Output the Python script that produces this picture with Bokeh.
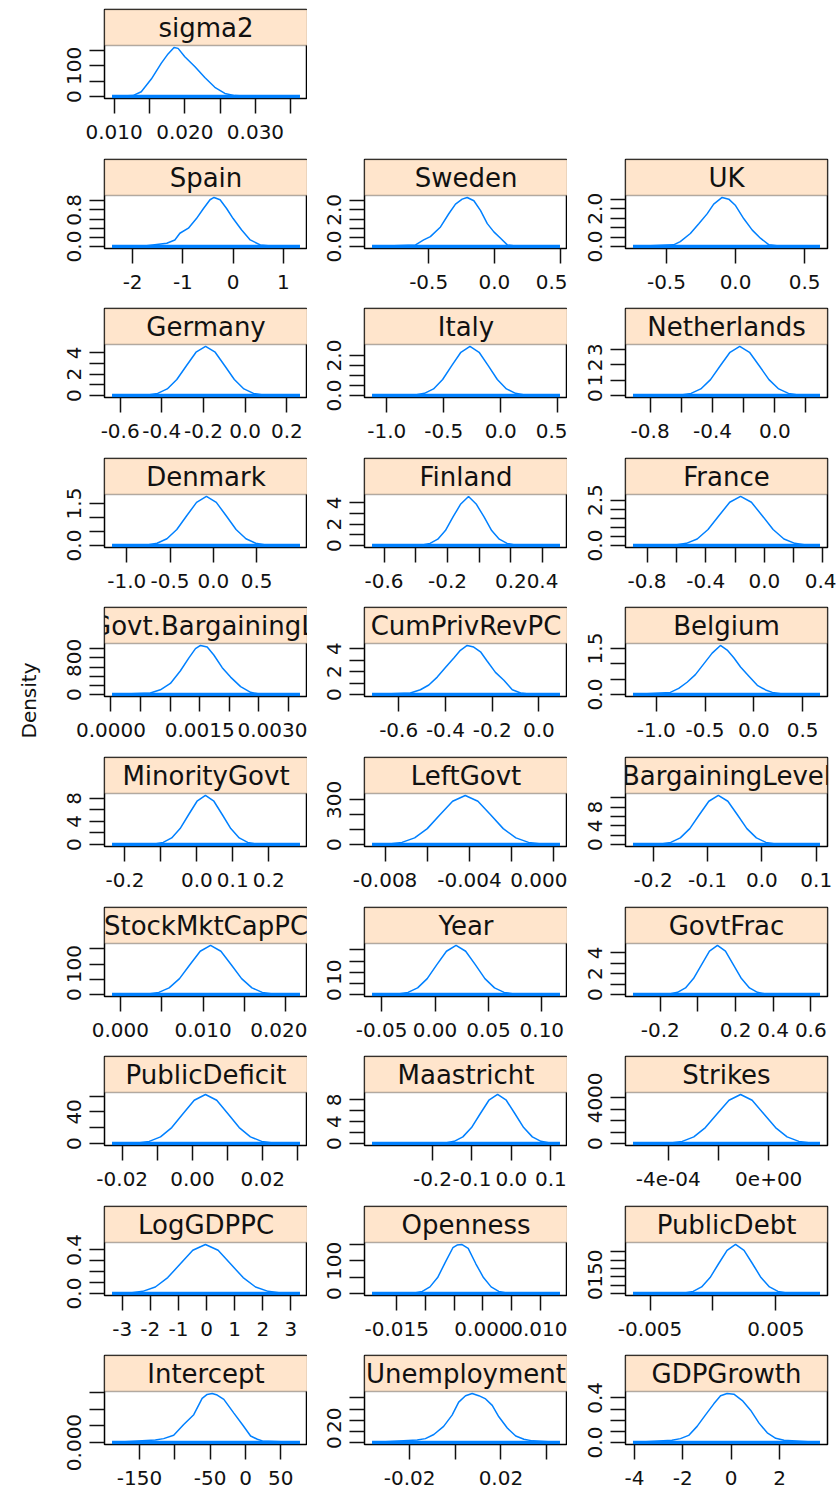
import math
from bokeh.plotting import figure
from bokeh.layouts import column, row
from bokeh.models import Range1d, FixedTicker, BoxAnnotation
from bokeh.core.properties import value
from bokeh.embed import file_html
from bokeh.resources import INLINE

# ---------------- data ----------------
sigma2_x = [0.0097, 0.01265, 0.01384, 0.01526, 0.01668, 0.01763, 0.01848, 0.01905, 0.0200, 0.02141, 0.02283, 0.02425, 0.02567, 0.02709, 0.02899, 0.0363]
sigma2_y = [0, 3, 15.5, 57, 109, 139, 160, 157, 130, 98, 62, 30, 10, 3, 1, 0]
sigma2_xt = [0.010, 0.015, 0.020, 0.025, 0.030, 0.035]
sigma2_xl = ["0.010", "", "0.020", "", "0.030", ""]
sigma2_yt = [0, 50, 100, 150]
sigma2_yl = ["0", "", "100", ""]

spain_x = [-2.41, -1.72, -1.32, -1.16, -1.06, -0.89, -0.73, -0.59, -0.46, -0.38, -0.26, -0.13, 0.00, 0.17, 0.34, 0.54, 0.80, 1.33]
spain_y = [0, 0.015, 0.073, 0.144, 0.29, 0.40, 0.61, 0.83, 1.02, 1.07, 1.02, 0.83, 0.61, 0.36, 0.144, 0.036, 0.005, 0]
spain_xt = [-2, -1, 0, 1]
spain_xl = ["-2", "-1", "0", "1"]
spain_yt = [0, 0.2, 0.4, 0.6, 0.8, 1.0]
spain_yl = ["0.0", "", "", "", "0.8", ""]

sweden_x = [-0.931, -0.60, -0.538, -0.487, -0.41, -0.347, -0.296, -0.245, -0.207, -0.156, -0.105, -0.054, -0.004, 0.047, 0.098, 0.175, 0.499]
sweden_y = [0, 0.09, 0.36, 0.54, 1.07, 1.79, 2.32, 2.59, 2.68, 2.50, 1.96, 1.25, 0.80, 0.45, 0.09, 0.01, 0]
sweden_xt = [-0.5, 0.0, 0.5]
sweden_xl = ["-0.5", "0.0", "0.5"]
sweden_yt = [0, 0.5, 1.0, 1.5, 2.0, 2.5]
sweden_yl = ["0.0", "", "", "", "2.0", ""]

uk_x = [-0.742, -0.448, -0.40, -0.327, -0.266, -0.206, -0.158, -0.097, -0.049, 0.0, 0.06, 0.121, 0.182, 0.242, 0.327, 0.611]
uk_y = [0, 0.09, 0.26, 0.69, 1.21, 1.73, 2.25, 2.6, 2.51, 2.17, 1.47, 0.87, 0.43, 0.09, 0.01, 0]
uk_xt = [-0.5, 0.0, 0.5]
uk_xl = ["-0.5", "0.0", "0.5"]
uk_yt = [0, 0.5, 1.0, 1.5, 2.0, 2.5]
uk_yl = ["0.0", "", "", "", "2.0", ""]

germany_x = [-0.639, -0.466, -0.42, -0.374, -0.328, -0.282, -0.236, -0.19, -0.144, -0.098, -0.052, -0.006, 0.04, 0.086, 0.263]
germany_y = [0, 0.05, 0.20, 0.62, 1.50, 2.79, 4.06, 4.6, 4.06, 2.79, 1.50, 0.62, 0.20, 0.05, 0]
germany_xt = [-0.6, -0.4, -0.2, 0.0, 0.2]
germany_xl = ["-0.6", "-0.4", "-0.2", "0.0", "0.2"]
germany_yt = [0, 1, 2, 3, 4]
germany_yl = ["0", "", "2", "", "4"]

italy_x = [-1.13, -0.75, -0.67, -0.59, -0.51, -0.43, -0.35, -0.27, -0.19, -0.11, -0.03, 0.05, 0.13, 0.21, 0.52]
italy_y = [0, 0.03, 0.11, 0.33, 0.80, 1.49, 2.16, 2.45, 2.16, 1.49, 0.80, 0.33, 0.11, 0.03, 0]
italy_xt = [-1.0, -0.5, 0.0, 0.5]
italy_xl = ["-1.0", "-0.5", "0.0", "0.5"]
italy_yt = [0, 0.5, 1.0, 1.5, 2.0]
italy_yl = ["0.0", "", "", "", "2.0"]

neth_x = [-0.91, -0.6, -0.5375, -0.475, -0.4125, -0.35, -0.2875, -0.225, -0.1625, -0.1, -0.0375, 0.025, 0.0875, 0.15, 0.29]
neth_y = [0, 0.035, 0.14, 0.43, 1.04, 1.94, 2.82, 3.2, 2.82, 1.94, 1.04, 0.43, 0.14, 0.035, 0]
neth_xt = [-0.8, -0.6, -0.4, -0.2, 0.0, 0.2]
neth_xl = ["-0.8", "", "-0.4", "", "0.0", ""]
neth_yt = [0, 1, 2, 3]
neth_yl = ["0", "1", "2", "3"]

denmark_x = [-1.17, -0.764, -0.65, -0.536, -0.422, -0.308, -0.194, -0.08, 0.034, 0.148, 0.262, 0.376, 0.49, 0.604, 1.0]
denmark_y = [0, 0.02, 0.08, 0.24, 0.57, 1.06, 1.54, 1.75, 1.54, 1.06, 0.57, 0.24, 0.08, 0.02, 0]
denmark_xt = [-1.0, -0.5, 0.0, 0.5]
denmark_xl = ["-1.0", "-0.5", "0.0", "0.5"]
denmark_yt = [0, 0.5, 1.0, 1.5]
denmark_yl = ["0.0", "", "", "1.5"]

finland_x = [-0.676, -0.358, -0.31, -0.261, -0.213, -0.164, -0.116, -0.067, -0.019, 0.03, 0.079, 0.127, 0.176, 0.224, 0.51]
finland_y = [0, 0.05, 0.2, 0.6, 1.4, 2.7, 3.9, 4.6, 3.9, 2.7, 1.4, 0.6, 0.2, 0.05, 0]
finland_xt = [-0.6, -0.4, -0.2, 0.0, 0.2, 0.4]
finland_xl = ["-0.6", "", "-0.2", "", "0.2", "0.4"]
finland_yt = [0, 1, 2, 3, 4]
finland_yl = ["0", "", "2", "", "4"]

france_x = [-0.896, -0.606, -0.532, -0.458, -0.384, -0.31, -0.236, -0.162, -0.088, -0.014, 0.06, 0.134, 0.208, 0.282, 0.38]
france_y = [0, 0.03, 0.12, 0.36, 0.88, 1.64, 2.38, 2.7, 2.38, 1.64, 0.88, 0.36, 0.12, 0.03, 0]
france_xt = [-0.8, -0.6, -0.4, -0.2, 0.0, 0.2, 0.4]
france_xl = ["-0.8", "", "-0.4", "", "0.0", "", "0.4"]
france_yt = [0, 0.5, 1.0, 1.5, 2.0, 2.5]
france_yl = ["0.0", "", "", "", "", "2.5"]

govtbl_x = [0.0000186, 0.000666, 0.000836, 0.001005, 0.001175, 0.001315, 0.001429, 0.001514, 0.001627, 0.001739, 0.001881, 0.002022, 0.002192, 0.002361, 0.00253, 0.003195]
govtbl_y = [0, 34, 104, 242, 518, 794, 1000, 1070, 1036, 862, 586, 380, 172, 48, 5, 0]
govtbl_xt = [0.0, 0.0005, 0.0010, 0.0015, 0.0020, 0.0025, 0.0030]
govtbl_xl = ["0.0000", "", "", "0.0015", "", "", "0.0030"]
govtbl_yt = [0, 200, 400, 600, 800, 1000]
govtbl_yl = ["0", "", "", "", "800", ""]

cumpriv_x = [-0.714, -0.55, -0.507, -0.471, -0.435, -0.40, -0.364, -0.336, -0.307, -0.279, -0.25, -0.221, -0.186, -0.15, -0.114, -0.078, -0.035, 0.09]
cumpriv_y = [0, 0.14, 0.42, 0.83, 1.52, 2.35, 3.18, 3.86, 4.28, 4.14, 3.73, 2.90, 1.93, 1.24, 0.42, 0.14, 0.02, 0]
cumpriv_xt = [-0.6, -0.4, -0.2, 0.0]
cumpriv_xl = ["-0.6", "-0.4", "-0.2", "0.0"]
cumpriv_yt = [0, 1, 2, 3, 4]
cumpriv_yl = ["0", "", "2", "", "4"]

belgium_x = [-1.239, -0.856, -0.77, -0.684, -0.599, -0.513, -0.427, -0.342, -0.273, -0.205, -0.136, -0.05, 0.036, 0.121, 0.19, 0.31, 0.679]
belgium_y = [0, 0.07, 0.2, 0.4, 0.65, 1.0, 1.35, 1.6, 1.45, 1.2, 0.9, 0.6, 0.3, 0.15, 0.07, 0.01, 0]
belgium_xt = [-1.0, -0.5, 0.0, 0.5]
belgium_xl = ["-1.0", "-0.5", "0.0", "0.5"]
belgium_yt = [0, 0.5, 1.0, 1.5]
belgium_yl = ["0.0", "", "", "1.5"]

minority_x = [-0.236, -0.117, -0.0935, -0.07, -0.0465, -0.023, 0.0005, 0.024, 0.0475, 0.071, 0.0945, 0.118, 0.1415, 0.165, 0.287]
minority_y = [0, 0.09, 0.37, 1.15, 2.76, 5.16, 7.5, 8.5, 7.5, 5.16, 2.76, 1.15, 0.37, 0.09, 0]
minority_xt = [-0.2, -0.1, 0.0, 0.1, 0.2]
minority_xl = ["-0.2", "", "0.0", "0.1", "0.2"]
minority_yt = [0, 2, 4, 6, 8]
minority_yl = ["0", "", "4", "", "8"]

leftgovt_x = [-0.00862, -0.0078, -0.0072, -0.0066, -0.006, -0.0054, -0.0048, -0.0042, -0.0036, -0.003, -0.0024, -0.0018, -0.0012, -0.0006, 0.00029]
leftgovt_y = [0, 3.6, 14.5, 44.6, 107, 200, 291, 330, 291, 200, 107, 44.6, 14.5, 3.6, 0]
leftgovt_xt = [-0.008, -0.006, -0.004, -0.002, 0.0]
leftgovt_xl = ["-0.008", "", "-0.004", "", "0.000"]
leftgovt_yt = [0, 100, 200, 300]
leftgovt_yl = ["0", "", "", "300"]

barg_x = [-0.237, -0.185, -0.1675, -0.15, -0.1325, -0.115, -0.0975, -0.08, -0.0625, -0.045, -0.0275, -0.01, 0.0075, 0.025, 0.107]
barg_y = [0, 0.12, 0.46, 1.42, 3.41, 6.37, 9.26, 10.5, 9.26, 6.37, 3.41, 1.42, 0.46, 0.12, 0]
barg_xt = [-0.2, -0.1, 0.0, 0.1]
barg_xl = ["-0.2", "-0.1", "0.0", "0.1"]
barg_yt = [0, 2, 4, 6, 8, 10]
barg_yl = ["0", "", "4", "", "8", ""]

stock_x = [-0.001, 0.0034, 0.00465, 0.0059, 0.00715, 0.0084, 0.00965, 0.0109, 0.01215, 0.0134, 0.01465, 0.0159, 0.01715, 0.0184, 0.0217]
stock_y = [0, 1.8, 7.1, 21.7, 52.3, 97.7, 142, 161, 142, 97.7, 52.3, 21.7, 7.1, 1.8, 0]
stock_xt = [0.0, 0.005, 0.010, 0.015, 0.020]
stock_xl = ["0.000", "", "0.010", "", "0.020"]
stock_yt = [0, 50, 100, 150]
stock_yl = ["0", "", "100", ""]

year_x = [-0.059, -0.0343, -0.0253, -0.0163, -0.0073, 0.0017, 0.0107, 0.0197, 0.0287, 0.0377, 0.0467, 0.0557, 0.0647, 0.0737, 0.117]
year_y = [0, 0.24, 0.97, 2.97, 7.15, 13.4, 19.4, 22, 19.4, 13.4, 7.15, 2.97, 0.97, 0.24, 0]
year_xt = [-0.05, 0.0, 0.05, 0.10]
year_xl = ["-0.05", "0.00", "0.05", "0.10"]
year_yt = [0, 5, 10, 15, 20]
year_yl = ["0", "", "10", "", ""]

govtfrac_x = [-0.345, -0.151, -0.1085, -0.066, -0.0235, 0.019, 0.0615, 0.104, 0.1465, 0.189, 0.2315, 0.274, 0.3165, 0.359, 0.649]
govtfrac_y = [0, 0.05, 0.21, 0.63, 1.53, 2.85, 4.15, 4.7, 4.15, 2.85, 1.53, 0.63, 0.21, 0.05, 0]
govtfrac_xt = [-0.2, 0.0, 0.2, 0.4, 0.6]
govtfrac_xl = ["-0.2", "", "0.2", "0.4", "0.6"]
govtfrac_yt = [0, 1, 2, 3, 4]
govtfrac_yl = ["0", "", "2", "", "4"]

deficit_x = [-0.0229, -0.0155, -0.0123, -0.0091, -0.0059, -0.0027, 0.0005, 0.0037, 0.0069, 0.0101, 0.0133, 0.0165, 0.0197, 0.0229, 0.0306]
deficit_y = [0, 0.68, 2.73, 8.4, 20.2, 37.6, 54.7, 62, 54.7, 37.6, 20.2, 8.4, 2.73, 0.68, 0]
deficit_xt = [-0.02, -0.01, 0.0, 0.01, 0.02, 0.03]
deficit_xl = ["-0.02", "", "0.00", "", "0.02", ""]
deficit_yt = [0, 20, 40, 60]
deficit_yl = ["0", "", "40", ""]

maas_x = [-0.353, -0.167, -0.145, -0.123, -0.101, -0.079, -0.057, -0.035, -0.013, 0.009, 0.031, 0.053, 0.075, 0.097, 0.123]
maas_y = [0, 0.1, 0.4, 1.22, 2.93, 5.46, 7.94, 9.0, 7.94, 5.46, 2.93, 1.22, 0.4, 0.1, 0]
maas_xt = [-0.2, -0.1, 0.0, 0.1]
maas_xl = ["-0.2", "-0.1", "0.0", "0.1"]
maas_yt = [0, 2, 4, 6, 8]
maas_yl = ["0", "", "4", "", "8"]

strikes_x = [-0.00054, -0.00039, -0.000344, -0.000298, -0.000252, -0.000205, -0.000158, -0.000112, -0.000066, -0.00002, 0.000027, 0.000073, 0.00012, 0.000166, 0.000204]
strikes_y = [0, 47, 189, 580, 1400, 2610, 3790, 4300, 3790, 2610, 1400, 580, 189, 47, 0]
strikes_xt = [-0.0004, -0.0002, 0.0]
strikes_xl = ["-4e-04", "", "0e+00"]
strikes_yt = [0, 1000, 2000, 3000, 4000]
strikes_yl = ["0", "", "", "", "4000"]

loggdp_x = [-3.36, -2.71, -2.27, -1.82, -1.38, -0.93, -0.49, -0.04, 0.41, 0.85, 1.30, 1.74, 2.19, 2.63, 3.32]
loggdp_y = [0, 0.005, 0.02, 0.06, 0.146, 0.273, 0.397, 0.45, 0.397, 0.273, 0.146, 0.06, 0.02, 0.005, 0]
loggdp_xt = [-3, -2, -1, 0, 1, 2, 3]
loggdp_xl = ["-3", "-2", "-1", "0", "1", "2", "3"]
loggdp_yt = [0, 0.1, 0.2, 0.3, 0.4]
loggdp_yl = ["0.0", "", "", "", "0.4"]

open_x = [-0.0193, -0.01188, -0.01055, -0.00922, -0.00789, -0.00656, -0.00523, -0.0045, -0.0037, -0.00257, -0.00124, 0.00009, 0.00142, 0.00275, 0.00408, 0.0134]
open_y = [0, 1.65, 6.6, 20.3, 48.8, 95, 140, 148, 150, 138, 91, 48.8, 20.3, 6.6, 1.65, 0]
open_xt = [-0.015, -0.010, -0.005, 0.0, 0.005, 0.010]
open_xl = ["-0.015", "", "", "0.000", "", "0.010"]
open_yt = [0, 50, 100, 150]
open_yl = ["0", "", "100", ""]

debt_x = [-0.00636, -0.00225, -0.001575, -0.0009, -0.000225, 0.00045, 0.001125, 0.0018, 0.002475, 0.00315, 0.003825, 0.0045, 0.005175, 0.00585, 0.00852]
debt_y = [0, 3.2, 13, 39.8, 95.9, 179, 260, 295, 260, 179, 95.9, 39.8, 13, 3.2, 0]
debt_xt = [-0.005, 0.0, 0.005]
debt_xl = ["-0.005", "", "0.005"]
debt_yt = [0, 50, 100, 150, 200, 250]
debt_yl = ["0", "", "", "150", "", ""]

intercept_x = [-189, -127.7, -115.9, -101.7, -87.5, -73.3, -61.4, -54.3, -47.2, -40.1, -30.7, -16.5, -4.5, 7.2, 16.8, 23.9, 77.1]
intercept_y = [0, 0.00078, 0.00118, 0.00218, 0.00543, 0.00839, 0.01332, 0.0145, 0.0148, 0.01431, 0.01302, 0.00888, 0.00543, 0.00197, 0.00099, 0.00049, 0]
intercept_xt = [-150, -100, -50, 0, 50]
intercept_xl = ["-150", "", "-50", "0", "50"]
intercept_yt = [0, 0.005, 0.010, 0.015]
intercept_yl = ["0.000", "", "", ""]

unemp_x = [-0.0365, -0.0167, -0.0131, -0.0094, -0.0051, -0.0014, 0.0015, 0.0045, 0.0074, 0.0103, 0.0133, 0.0162, 0.0191, 0.0228, 0.0265, 0.0301, 0.0338, 0.0459]
unemp_y = [0, 2.3, 3.5, 7.2, 14.5, 24.6, 36.2, 42, 44, 42, 39.1, 33.3, 23.1, 13, 5.8, 2.9, 1.5, 0]
unemp_xt = [-0.02, 0.0, 0.02, 0.04]
unemp_xl = ["-0.02", "", "0.02", ""]
unemp_yt = [0, 10, 20, 30, 40]
unemp_yl = ["0", "", "20", "", ""]

gdpg_x = [-4.06, -2.45, -2.10, -1.76, -1.41, -1.07, -0.72, -0.44, -0.17, 0.11, 0.46, 0.80, 1.15, 1.49, 1.84, 2.18, 3.67]
gdpg_y = [0, 0.02, 0.035, 0.064, 0.145, 0.246, 0.347, 0.42, 0.44, 0.434, 0.376, 0.29, 0.174, 0.087, 0.038, 0.02, 0]
gdpg_xt = [-4, -2, 0, 2]
gdpg_xl = ["-4", "-2", "0", "2"]
gdpg_yt = [0, 0.1, 0.2, 0.3, 0.4]
gdpg_yl = ["0.0", "", "", "", "0.4"]

# panel layout, row by row (top to bottom), left to right
GRID = [
    [("sigma2", sigma2_x, sigma2_y, sigma2_xt, sigma2_xl, sigma2_yt, sigma2_yl)],
    [("Spain", spain_x, spain_y, spain_xt, spain_xl, spain_yt, spain_yl),
     ("Sweden", sweden_x, sweden_y, sweden_xt, sweden_xl, sweden_yt, sweden_yl),
     ("UK", uk_x, uk_y, uk_xt, uk_xl, uk_yt, uk_yl)],
    [("Germany", germany_x, germany_y, germany_xt, germany_xl, germany_yt, germany_yl),
     ("Italy", italy_x, italy_y, italy_xt, italy_xl, italy_yt, italy_yl),
     ("Netherlands", neth_x, neth_y, neth_xt, neth_xl, neth_yt, neth_yl)],
    [("Denmark", denmark_x, denmark_y, denmark_xt, denmark_xl, denmark_yt, denmark_yl),
     ("Finland", finland_x, finland_y, finland_xt, finland_xl, finland_yt, finland_yl),
     ("France", france_x, france_y, france_xt, france_xl, france_yt, france_yl)],
    [("LeftGovt.BargainingLevel", govtbl_x, govtbl_y, govtbl_xt, govtbl_xl, govtbl_yt, govtbl_yl),
     ("CumPrivRevPC", cumpriv_x, cumpriv_y, cumpriv_xt, cumpriv_xl, cumpriv_yt, cumpriv_yl),
     ("Belgium", belgium_x, belgium_y, belgium_xt, belgium_xl, belgium_yt, belgium_yl)],
    [("MinorityGovt", minority_x, minority_y, minority_xt, minority_xl, minority_yt, minority_yl),
     ("LeftGovt", leftgovt_x, leftgovt_y, leftgovt_xt, leftgovt_xl, leftgovt_yt, leftgovt_yl),
     ("BargainingLevel", barg_x, barg_y, barg_xt, barg_xl, barg_yt, barg_yl)],
    [("StockMktCapPC", stock_x, stock_y, stock_xt, stock_xl, stock_yt, stock_yl),
     ("Year", year_x, year_y, year_xt, year_xl, year_yt, year_yl),
     ("GovtFrac", govtfrac_x, govtfrac_y, govtfrac_xt, govtfrac_xl, govtfrac_yt, govtfrac_yl)],
    [("PublicDeficit", deficit_x, deficit_y, deficit_xt, deficit_xl, deficit_yt, deficit_yl),
     ("Maastricht", maas_x, maas_y, maas_xt, maas_xl, maas_yt, maas_yl),
     ("Strikes", strikes_x, strikes_y, strikes_xt, strikes_xl, strikes_yt, strikes_yl)],
    [("LogGDPPC", loggdp_x, loggdp_y, loggdp_xt, loggdp_xl, loggdp_yt, loggdp_yl),
     ("Openness", open_x, open_y, open_xt, open_xl, open_yt, open_yl),
     ("PublicDebt", debt_x, debt_y, debt_xt, debt_xl, debt_yt, debt_yl)],
    [("Intercept", intercept_x, intercept_y, intercept_xt, intercept_xl, intercept_yt, intercept_yl),
     ("Unemployment", unemp_x, unemp_y, unemp_xt, unemp_xl, unemp_yt, unemp_yl),
     ("GDPGrowth", gdpg_x, gdpg_y, gdpg_xt, gdpg_xl, gdpg_yt, gdpg_yl)],
]

# ---------------- style / layout ----------------
FONT = "DejaVu Sans"
BLUE = "#0080ff"
STRIP_FILL = "#ffe5cc"
STRIP_H, PANEL_H = 36, 53
FRAME_W = [203, 203, 202]
LEFT_B = [57, 57, 58]
RIGHT_B = [0, 0, 9]
ROW_H = [158, 149, 150, 149, 150, 150, 149, 150, 149, 145]
TOP_B = [9, 1, 1, 1, 1, 1, 1, 1, 1, 1]
LEFT_SPACE = 47


def make_panel(name, xs, ys, xt, xl, yt, yl, col, r):
    h = ROW_H[r]
    xmin, xmax = xs[0], xs[-1]
    dx = xmax - xmin
    ymax = max(ys)
    ylo, yhi = -0.04 * ymax, 1.04 * ymax
    ytop = yhi + (yhi - ylo) * STRIP_H / PANEL_H
    p = figure(width=LEFT_B[col] + FRAME_W[col] + RIGHT_B[col], height=h,
               x_range=Range1d(xmin - 0.04 * dx, xmax + 0.04 * dx),
               y_range=Range1d(ylo, ytop),
               output_backend="svg", toolbar_location=None,
               min_border_left=LEFT_B[col], min_border_right=RIGHT_B[col],
               min_border_top=TOP_B[r],
               min_border_bottom=h - TOP_B[r] - STRIP_H - PANEL_H)
    p.grid.visible = False
    p.outline_line_color = "black"
    p.outline_line_width = 1.5
    p.background_fill_color = "white"
    p.border_fill_color = "white"

    strip = BoxAnnotation(bottom=yhi, fill_color=STRIP_FILL, fill_alpha=1.0,
                          line_color="black", line_width=1.5, level="underlay")
    p.add_layout(strip)

    p.line(xs, ys, color=BLUE, line_width=1.5)
    p.line([xmin, xmax], [0, 0], color=BLUE, line_width=3.5)
    p.text(x=[(xmin + xmax) / 2], y=[(yhi + ytop) / 2], text=[name],
           text_font=value(FONT), text_font_size="26px", text_color="#111111",
           text_align="center", text_baseline="middle")

    for ax, ticks, labels in ((p.xaxis[0], xt, xl), (p.yaxis[0], yt, yl)):
        ax.ticker = FixedTicker(ticks=ticks, minor_ticks=[])
        ax.major_label_overrides = {t: l for t, l in zip(ticks, labels)}
        ax.axis_line_color = None
        ax.major_tick_out = 15
        ax.major_tick_in = 0
        ax.major_tick_line_width = 1.5
        ax.major_tick_line_color = "#111111"
        ax.minor_tick_line_color = None
        ax.major_label_text_font = FONT
        ax.major_label_text_font_size = "20px"
        ax.major_label_text_color = "#111111"
    p.xaxis.major_label_standoff = 11
    p.yaxis.major_label_standoff = 8
    p.yaxis.major_label_orientation = "vertical"
    return p


rows = []
for r, panels in enumerate(GRID):
    figs = [make_panel(*pan, c, r) for c, pan in enumerate(panels)]
    rows.append(row(*figs, spacing=0))
grid = column(*rows, spacing=0)

total_h = sum(ROW_H)
lab = figure(width=LEFT_SPACE, height=total_h, x_range=Range1d(0, LEFT_SPACE),
             y_range=Range1d(total_h, 0), output_backend="svg", toolbar_location=None,
             x_axis_type=None, y_axis_type=None, min_border=0)
lab.grid.visible = False
lab.outline_line_color = None
lab.text(x=[28], y=[700], text=["Density"], angle=math.pi / 2,
         text_font=value(FONT), text_font_size="20px", text_color="#111111",
         text_align="center", text_baseline="middle")

page = row(lab, grid, spacing=0)
open("out.html", "w").write(file_html(page, INLINE))
